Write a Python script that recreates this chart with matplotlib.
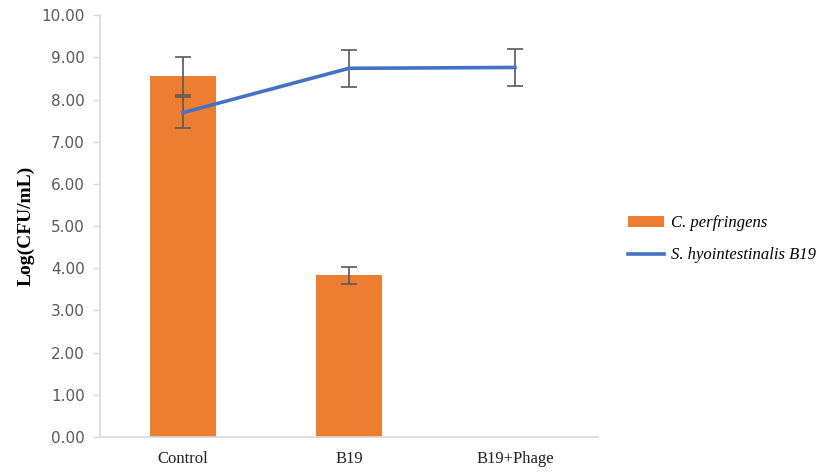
import matplotlib.pyplot as plt
import numpy as np

groups = ["Control", "B19", "B19+Phage"]
cp_mean = [8.55, 3.83]
cp_err = [0.45, 0.20]
sh_mean = [7.69, 8.74, 8.76]
sh_err = [0.37, 0.44, 0.44]

orange = "#ED7D31"
blue = "#4472C4"
grey_axis = "#D9D9D9"

fig = plt.figure(figsize=(8.27, 4.73), dpi=100)
ax = fig.add_axes([0.121, 0.076, 0.602, 0.892])

x = np.arange(len(groups))
bars = ax.bar(x[:len(cp_mean)], cp_mean, width=0.4, color=orange, zorder=2)
ax.errorbar(x[:len(cp_mean)], cp_mean, yerr=cp_err, fmt="none", ecolor="#595959",
            elinewidth=1.2, capsize=6, capthick=1.2, zorder=3)
line, = ax.plot(x, sh_mean, color=blue, lw=2.6, zorder=4)
ax.errorbar(x, sh_mean, yerr=sh_err, fmt="none", ecolor="#595959",
            elinewidth=1.2, capsize=6, capthick=1.2, zorder=3)

ax.set_xlim(-0.5, 2.5)
ax.set_ylim(0, 10)
ax.set_yticks(np.arange(0, 11, 1))
ax.set_yticklabels([f"{v:.2f}" for v in np.arange(0, 11, 1)],
                   family="DejaVu Sans", fontsize=11, color="#595959")
ax.set_xticks(x)
ax.set_xticklabels(groups, family="Liberation Serif", fontsize=12, color="#222222")
ax.tick_params(axis="x", length=0, pad=10)
ax.tick_params(axis="y", length=5, color=grey_axis, width=1, pad=6)

for s in ["top", "right"]:
    ax.spines[s].set_visible(False)
for s in ["left", "bottom"]:
    ax.spines[s].set_color(grey_axis)
    ax.spines[s].set_linewidth(1.2)

ax.set_ylabel("Log(CFU/mL)", family="Liberation Serif", fontweight="bold",
              fontsize=14, labelpad=5)

fig.legend([bars, line], ["C. perfringens", "S. hyointestinalis B19"],
           loc="center left", bbox_to_anchor=(0.741, 0.494), frameon=False,
           prop={"family": "Liberation Serif", "style": "italic", "size": 12},
           handlelength=2.2, handleheight=0.6, labelspacing=0.95, handletextpad=0.4)

fig.savefig("out.png", dpi=100)
